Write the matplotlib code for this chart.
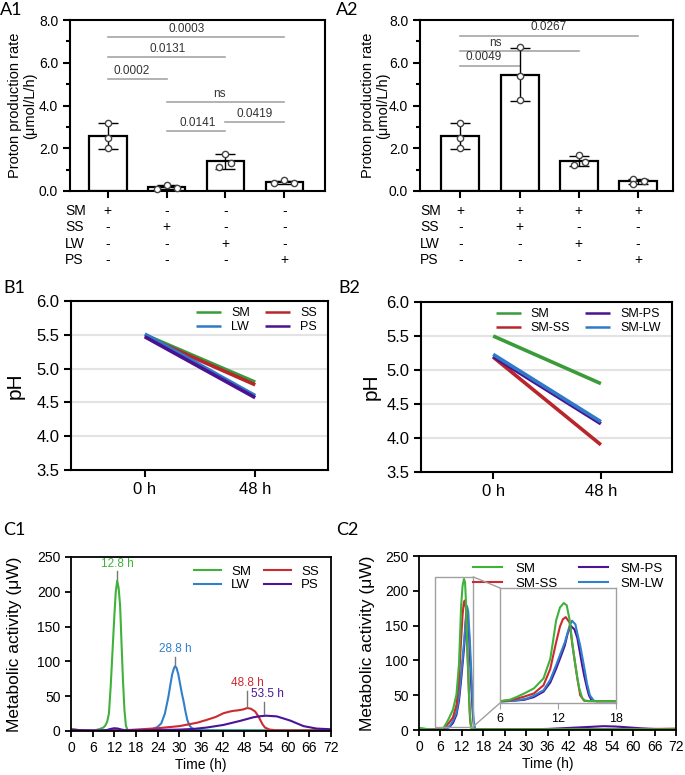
import numpy as np
import matplotlib
matplotlib.use('Agg')
import matplotlib.pyplot as plt
import matplotlib.transforms as mtransforms
from matplotlib.patches import Rectangle, ConnectionPatch
from matplotlib.ticker import FormatStrFormatter, MultipleLocator

plt.rcParams['font.family'] = ['Liberation Sans', 'DejaVu Sans']

#%% data

groups = ['SM', 'SS', 'LW', 'PS']

# A1 - proton production rate, three replicates per substrate
rate_a1 = [[3.2, 2.5, 2.0], [0.1, 0.3, 0.15], [1.75, 1.1, 1.3], [0.38, 0.5, 0.38]]
signs_a1 = [['+', '-', '-', '-'],
            ['-', '+', '-', '-'],
            ['-', '-', '+', '-'],
            ['-', '-', '-', '+']]
# (bar i, bar j, line height, text x, text)
pvals_a1 = [(0, 3, 7.2, 1.34, '0.0003'), (0, 2, 6.25, 1.02, '0.0131'), (0, 1, 5.25, 0.4, '0.0002'),
            (1, 3, 4.15, 1.9, 'ns'), (2, 3, 3.22, 2.49, '0.0419'), (1, 2, 2.82, 1.53, '0.0141')]

# A2 - SM combined with the other substrates
rate_a2 = [[3.2, 2.5, 2.0], [6.72, 5.38, 4.25], [1.68, 1.2, 1.34], [0.55, 0.35, 0.45]]
signs_a2 = [['+', '+', '+', '+'],
            ['-', '+', '-', '-'],
            ['-', '-', '+', '-'],
            ['-', '-', '-', '+']]
pvals_a2 = [(0, 3, 7.27, 1.49, '0.0267'), (0, 2, 6.55, 0.59, 'ns'), (0, 1, 5.87, 0.39, '0.0049')]

# B - pH at 0 h and 48 h
ph_times = ['0 h', '48 h']
ph_sm_b1 = [5.50, 4.80]
ph_ss_b1 = [5.48, 4.76]
ph_lw_b1 = [5.51, 4.60]
ph_ps_b1 = [5.47, 4.57]
ph_sm_b2 = [5.50, 4.80]
ph_smss_b2 = [5.19, 3.90]
ph_smps_b2 = [5.20, 4.21]
ph_smlw_b2 = [5.23, 4.24]

# C1 - metabolic activity (uW) vs time (h)
t_sm1 = [0, 1, 2, 3, 4, 5, 6, 7, 8, 9, 9.5, 10, 10.5, 11, 11.5, 12, 12.4, 12.8, 13.2, 13.6,
         14, 14.4, 14.8, 15.2, 15.6, 16, 18, 24, 30, 36, 42, 48, 54, 60, 66, 72]
v_sm1 = [3, 2.5, 1.5, 0.8, 0.5, 0.5, 0.8, 1.5, 3, 5, 8, 13, 25, 65, 115, 165, 200, 216, 205, 180,
         125, 72, 30, 8, 2, 0.8, 1, 1, 1, 1, 1, 1, 1, 1, 1, 1]
t_lw1 = [0, 6, 12, 18, 21, 22, 23, 24, 25, 26, 27, 27.5, 28, 28.5, 28.8, 29.2, 29.7, 30.2, 30.7,
         31.2, 31.7, 32.2, 32.8, 33.5, 34.5, 36, 42, 48, 54, 60, 66, 72]
v_lw1 = [1, 1, 1.5, 1.5, 1.5, 2, 3.5, 6, 11, 25, 50, 66, 81, 90, 93, 91, 82, 68, 54,
         42, 28, 16, 8, 4, 2, 1, 0.8, 0.6, 0.5, 0.5, 0.5, 0.5]
t_ss1 = [0, 3, 6, 9, 12, 15, 18, 21, 24, 27, 30, 33, 35, 37.6, 40, 42.2, 44, 45, 46, 47.7, 48.8,
         49.8, 51, 52, 52.4, 53, 53.7, 55, 57, 60, 66, 72]
v_ss1 = [2, 1, 0.5, 0.5, 1, 1, 2, 3, 4, 5.5, 7, 10, 12, 16, 20, 25.5, 28, 29, 29.5, 31, 33,
         32, 28, 20, 16, 10, 5, 2, 1, 0.8, 0.8, 1.5]
t_ps1 = [0, 3, 6, 9, 10, 11, 12, 13, 14, 15, 18, 24, 30, 34, 37.6, 42.2, 46.8, 50.5, 52, 54,
         57, 60.7, 64.4, 68, 72]
v_ps1 = [1.5, 1, 0.5, 0.8, 1.5, 3, 4, 3.5, 2, 1, 1, 1.5, 2, 3, 5, 8.7, 14.5, 19.7, 21, 22,
         21, 15, 7, 3.5, 2.5]
peaks_c1 = [('12.8 h', 12.8, 216), ('28.8 h', 28.8, 93), ('48.8 h', 48.8, 33), ('53.5 h', 53.5, 22)]

# C2 - SM alone and SM with the other substrates
t_sm2 = [0, 1, 2, 3, 4, 5, 6, 7, 7.8, 8.5, 9.5, 10.5, 11.2, 11.5, 11.8, 12.2, 12.6, 12.9, 13.2,
         13.5, 13.7, 14.0, 14.2, 14.5, 14.8, 15.2, 16, 18, 24, 30, 36, 42, 48, 54, 60, 66, 72]
v_sm2 = [3, 2.5, 1.5, 0.8, 0.5, 0.5, 1, 4, 11, 18, 29, 51, 94, 135, 178, 207, 217, 212, 180,
         125, 94, 52, 29, 8, 2, 1.5, 1, 1, 1, 1, 1, 1, 1, 1, 1, 1, 1]
t_smss2 = [0, 3, 6, 7, 7.8, 8.5, 9.5, 10.5, 11.2, 11.8, 12.2, 12.5, 12.8, 13.2, 13.5, 13.8, 14.0,
           14.3, 14.7, 15.2, 16, 18, 24, 36, 48, 60, 66, 72]
v_smss2 = [1, 0.5, 0.8, 3, 7, 11, 18, 36, 72, 130, 165, 181, 186, 174, 123, 80, 51,
           14, 2, 1, 1, 1, 1, 1, 1, 1, 1.5, 2]
t_smps2 = [0, 3, 6, 7, 8.5, 9.5, 10.5, 11.2, 11.8, 12.3, 12.7, 13.0, 13.3, 13.7, 14.0, 14.2, 14.5,
           14.7, 15.0, 15.2, 15.5, 16, 18, 24, 30, 36, 40, 44, 48, 51.7, 55, 58, 62, 66, 72]
v_smps2 = [1, 0.5, 0.5, 1.5, 4, 10, 22, 42, 72, 100, 123, 150, 167, 159, 140, 116, 80,
           58, 30, 14, 2, 1, 1, 1, 1, 1.5, 2.5, 3.5, 4.5, 5.5, 5, 4, 2.5, 1.5, 1]
t_smlw2 = [0, 3, 6, 7, 8, 8.8, 9.5, 10.5, 11.2, 11.8, 12.3, 12.7, 13.0, 13.2, 13.45, 13.8, 14.0,
           14.3, 14.5, 14.8, 15.0, 15.3, 15.7, 16, 18, 24, 36, 48, 60, 72]
v_smlw2 = [1, 0.5, 0.5, 1.5, 3.5, 7, 13, 25, 48, 80, 108, 130, 152, 167, 178, 170, 150,
           123, 100, 65, 40, 14, 2, 1, 1, 1, 1, 1, 1, 1]

#%% style

green = '#3a9b3a'
red = '#b8262c'
blue = '#2f7ac8'
purple = '#4a1290'
green_c = '#3fb23b'
red_c = '#cc2a2e'
blue_c = '#3080cc'
purple_c = '#4a1499'

fig = plt.figure(figsize=(6.85, 7.75), dpi=100)


def box_axes(ax, lw=1.5):
    for s in ax.spines.values():
        s.set_linewidth(lw)
    ax.tick_params(direction='out', width=lw, length=5)


def bar_panel(ax, reps, jit, signs, brackets, xlim, lab_x, ylab_x):
    x = np.arange(len(reps))
    means = [np.mean(r) for r in reps]
    sds = [np.std(r, ddof=1) for r in reps]
    ax.bar(x, means, width=0.64, color='white', edgecolor='black', linewidth=1.6, zorder=2)
    ax.errorbar(x, means, yerr=sds, fmt='none', ecolor='black', elinewidth=1,
                capsize=7, capthick=1, zorder=3)
    for i, r in enumerate(reps):
        ax.plot(x[i] + np.array(jit[i]), r, 'o', ms=4.5, mfc='white', mec='#444444',
                mew=1, zorder=4, clip_on=False)
    for i, j, y, tx, txt in brackets:
        ax.plot([x[i], x[j]], [y, y], color='#a6a6a6', lw=1.2)
        ax.text(tx, y + 0.1, txt, ha='center', va='bottom', fontsize=8.5, color='#333333')
    ax.set_xlim(xlim)
    ax.set_ylim(0, 8)
    ax.set_xticks(x)
    ax.set_xticklabels([])
    ax.yaxis.set_major_locator(MultipleLocator(2))
    ax.yaxis.set_minor_locator(MultipleLocator(1))
    ax.yaxis.set_major_formatter(FormatStrFormatter('%.1f'))
    box_axes(ax)
    ax.tick_params(which='minor', direction='out', width=1.5, length=3)
    ax.tick_params(axis='y', labelsize=10)
    ax.set_ylabel('Proton production rate\n(μmol/L/h)', fontsize=10.5, linespacing=1.1)
    ax.yaxis.set_label_coords(ylab_x, 0.5)
    trans = mtransforms.blended_transform_factory(ax.transData, ax.transAxes)
    for k, name in enumerate(groups):
        yy = -0.117 - k * 0.0955
        ax.text(lab_x, yy, name, transform=ax.transAxes, ha='left', va='center', fontsize=10)
        for i in range(len(reps)):
            ax.text(x[i], yy, signs[k][i], transform=trans, ha='center', va='center', fontsize=10)


#%% A panels
ax = fig.add_axes([70 / 685, 1 - 191 / 775, 255 / 685, 171 / 775])
bar_panel(ax, rate_a1, [[0, 0, 0], [-0.17, 0, 0.17], [0, -0.11, 0.09], [-0.17, 0, 0.17]],
          signs_a1, pvals_a1, (-0.64, 3.69), -0.02, -0.13)

ax = fig.add_axes([420 / 685, 1 - 191 / 775, 253 / 685, 171 / 775])
bar_panel(ax, rate_a2, [[0, 0, 0], [0, 0, 0], [0, -0.08, 0.1], [-0.09, -0.09, 0.1]],
          signs_a2, pvals_a2, (-0.68, 3.59), 0.0, -0.119)

#%% B panels


def ph_panel(ax, series, order, ylab_x):
    for yy in [4.0, 4.5, 5.0, 5.5]:
        ax.axhline(yy, color='#e3e3e3', lw=1.5, zorder=0)
    handles = {}
    for name, vals, col in series:
        handles[name], = ax.plot([0, 1], vals, color=col, lw=2.6, solid_capstyle='butt', label=name)
    ax.set_xlim(-0.67, 1.66)
    ax.set_ylim(3.5, 6.0)
    ax.set_xticks([0, 1])
    ax.set_xticklabels(ph_times)
    ax.yaxis.set_major_locator(MultipleLocator(0.5))
    ax.yaxis.set_major_formatter(FormatStrFormatter('%.1f'))
    box_axes(ax)
    ax.tick_params(labelsize=12)
    ax.set_ylabel('pH', fontsize=15)
    ax.yaxis.set_label_coords(ylab_x, 0.5)
    leg = ax.legend([handles[n] for n in order], order, ncol=2, loc='upper right',
                    bbox_to_anchor=(1.0, 1.03), frameon=False, fontsize=9, handlelength=2.0,
                    labelspacing=0.15, columnspacing=1.2, handletextpad=0.8)
    for ln in leg.get_lines():
        ln.set_linewidth(1.8)


ax = fig.add_axes([71 / 685, 1 - 470 / 775, 257 / 685, 169 / 775])
ph_panel(ax, [('SM', ph_sm_b1, green), ('SS', ph_ss_b1, red),
              ('LW', ph_lw_b1, blue), ('PS', ph_ps_b1, purple)],
         ['SM', 'LW', 'SS', 'PS'], -0.179)

ax = fig.add_axes([421 / 685, 1 - 472 / 775, 251 / 685, 170 / 775])
ph_panel(ax, [('SM', ph_sm_b2, green), ('SM-SS', ph_smss_b2, red),
              ('SM-PS', ph_smps_b2, purple), ('SM-LW', ph_smlw_b2, blue)],
         ['SM', 'SM-SS', 'SM-PS', 'SM-LW'], -0.162)

#%% C panels


def activity_axes(ax, ylab_x):
    ax.set_xlim(0, 72)
    ax.set_ylim(0, 250)
    ax.set_xticks(np.arange(0, 73, 6))
    ax.set_yticks(np.arange(0, 251, 50))
    box_axes(ax, 1.3)
    ax.tick_params(labelsize=10, length=4)
    ax.set_xlabel('Time (h)', fontsize=10, labelpad=2)
    ax.set_ylabel('Metabolic activity (μW)', fontsize=12.5)
    ax.yaxis.set_label_coords(ylab_x, 0.5)


ax = fig.add_axes([71 / 685, 1 - 731 / 775, 260 / 685, 174 / 775])
h_sm, = ax.plot(t_sm1, v_sm1, color=green_c, lw=1.5)
h_lw, = ax.plot(t_lw1, v_lw1, color=blue_c, lw=1.5)
h_ss, = ax.plot(t_ss1, v_ss1, color=red_c, lw=1.5)
h_ps, = ax.plot(t_ps1, v_ps1, color=purple_c, lw=1.5)
activity_axes(ax, -0.19)
for (txt, tp, vp), col, lline, dx in zip(peaks_c1, [green_c, blue_c, red_c, purple_c],
                                         [12, 12, 23, 18], [0, 0, 0, 1.0]):
    ax.plot([tp, tp], [vp + 2, vp + 2 + lline], color='#777777', lw=1)
    ax.text(tp + dx, vp + 4 + lline, txt, color=col, ha='center', va='bottom', fontsize=8.5)
ax.legend([h_sm, h_lw, h_ss, h_ps], ['SM', 'LW', 'SS', 'PS'], ncol=2, loc='upper right',
          bbox_to_anchor=(1.0, 1.02), frameon=False, fontsize=9.5, handlelength=2.0,
          labelspacing=0.1, columnspacing=1.0, handletextpad=0.8)

ax = fig.add_axes([419 / 685, 1 - 730 / 775, 257 / 685, 174 / 775])
c2_series = [(t_smps2, v_smps2, purple_c), (t_smlw2, v_smlw2, blue_c),
             (t_smss2, v_smss2, red_c), (t_sm2, v_sm2, green_c)]
hh = []
for tt, vv, col in c2_series:
    h, = ax.plot(tt, vv, color=col, lw=1.5)
    hh.append(h)
activity_axes(ax, -0.17)
ax.legend([hh[3], hh[2], hh[0], hh[1]], ['SM', 'SM-SS', 'SM-PS', 'SM-LW'], ncol=2,
          loc='upper right', bbox_to_anchor=(1.0, 1.03), frameon=False, fontsize=9.5,
          handlelength=2.2, labelspacing=0.2, columnspacing=1.6, handletextpad=1.0)
ax.add_patch(Rectangle((4.5, 5), 10.7, 215, fill=False, edgecolor='#a0a0a0', lw=1, zorder=5))

axin = fig.add_axes([500 / 685, 1 - 703 / 775, 116 / 685, 115 / 775])
for tt, vv, col in c2_series:
    axin.plot(tt, vv, color=col, lw=1.5)
axin.set_xlim(6, 18)
axin.set_ylim(-3, 250)
axin.set_xticks([6, 12, 18])
axin.set_yticks([])
for s in axin.spines.values():
    s.set_color('#a0a0a0')
    s.set_linewidth(1)
axin.tick_params(axis='x', colors='#a0a0a0', labelcolor='black', labelsize=9, length=4)
for ya, yd in [(1, 220), (0, 5)]:
    con = ConnectionPatch(xyA=(0, ya), coordsA=axin.transAxes, xyB=(15.2, yd),
                          coordsB=ax.transData, color='#a0a0a0', lw=1)
    fig.add_artist(con)

#%% panel labels
for lab, px, py in [('A1', 0, 2), ('A2', 336, 2), ('B1', 3, 280), ('B2', 338, 280),
                    ('C1', 3, 522), ('C2', 336, 522)]:
    fig.text(px / 685, 1 - py / 775, lab, fontsize=13, family=['Lato', 'DejaVu Sans'],
             ha='left', va='top')

fig.savefig('out.png', dpi=100)
